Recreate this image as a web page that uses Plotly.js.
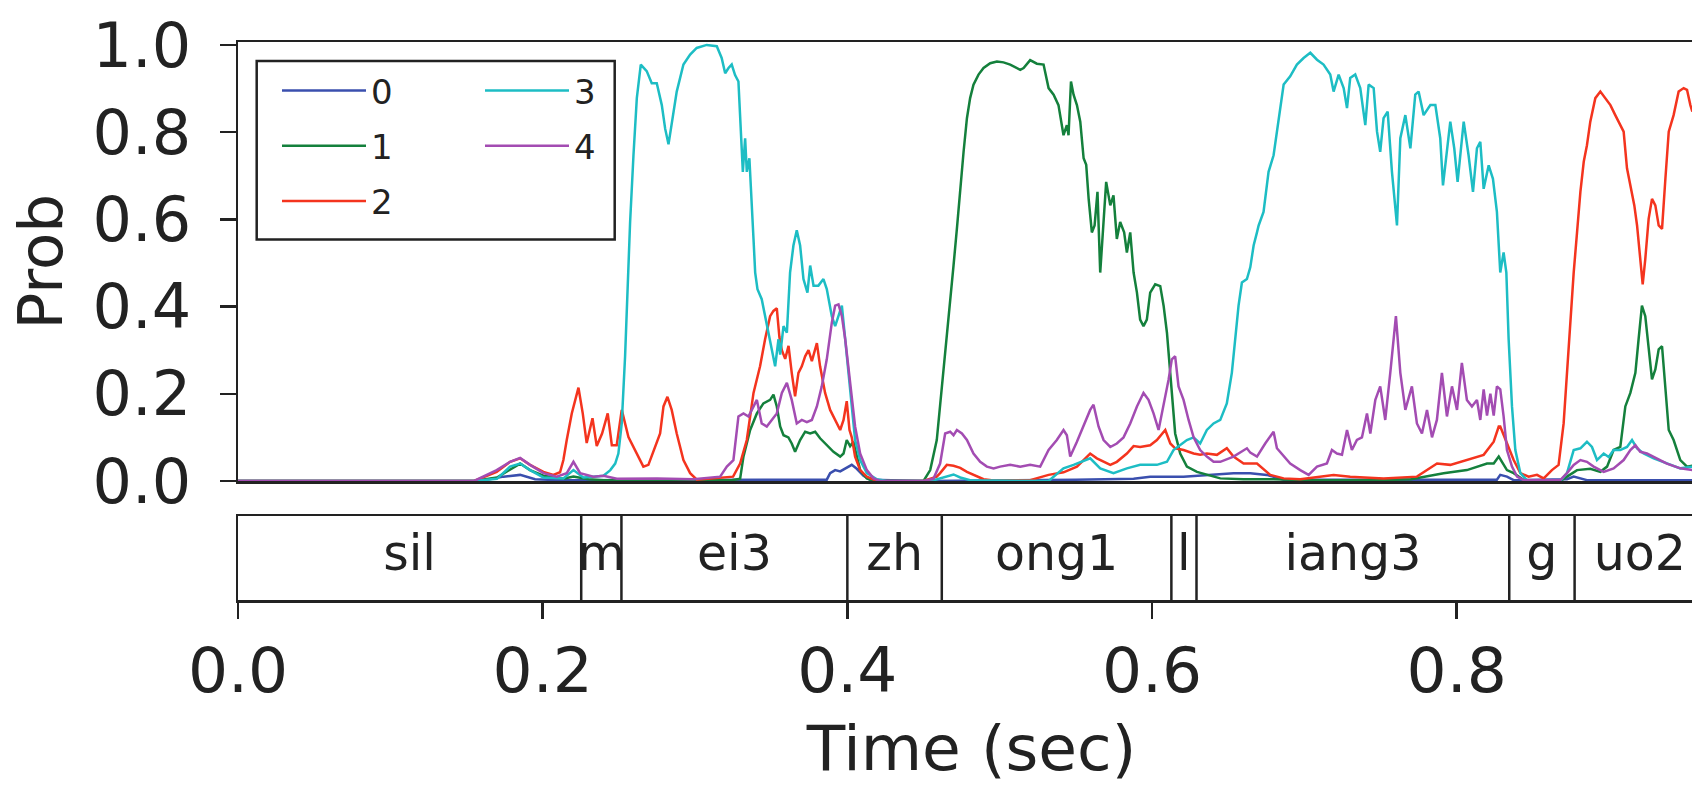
<!DOCTYPE html>
<html>
<head>
<meta charset="utf-8">
<script src="https://cdn.plot.ly/plotly-3.0.1.min.js"></script>
<style>
html, body { margin: 0; padding: 0; width: 1692px; height: 785px; overflow: hidden; background: #fff; }
#chart { width: 1705px; height: 785px; }
</style>
</head>
<body>
<div id="chart"></div>
<script>
// ---------- data ----------
const classNames = ['0', '1', '2', '3', '4'];
const classColors = ['#3a4fae', '#14803c', '#f4341e', '#1dbdc4', '#a34cb2'];

// class 0 (blue)
const t0 = [0, 0.155, 0.165, 0.1742, 0.1852, 0.1950, 0.21, 0.30,
  0.3865, 0.3887, 0.3920, 0.3953, 0.3986, 0.4029, 0.4062, 0.4106, 0.4150,
  0.45, 0.55, 0.5879, 0.5988, 0.6207, 0.6535, 0.6645, 0.6754, 0.6864,
  0.8264, 0.8286, 0.8330, 0.8374, 0.8724, 0.8768, 0.8855, 0.9547];
const p0 = [0, 0, 0.004, 0.01, 0.014, 0.004, 0.002, 0.002,
  0.003, 0.018, 0.025, 0.022, 0.028, 0.037, 0.028, 0.012, 0.003,
  0, 0.003, 0.005, 0.01, 0.01, 0.018, 0.018, 0.014, 0.003,
  0.003, 0.014, 0.01, 0.002, 0.004, 0.01, 0.002, 0.002];

// class 1 (green)
const t1 = [0, 0.155, 0.170, 0.1852, 0.1917, 0.2005, 0.2136, 0.2202, 0.2300, 0.2400,
  0.3240, 0.3296, 0.3318, 0.3362, 0.3406, 0.3449, 0.3493, 0.3515, 0.3537, 0.3559,
  0.3581, 0.3613, 0.3635, 0.3657, 0.3690, 0.3723, 0.3756, 0.3789, 0.3821, 0.3865,
  0.3909, 0.3953, 0.3975, 0.3996, 0.4018, 0.4040, 0.4062, 0.4084, 0.4128, 0.4172,
  0.4500, 0.4544, 0.4587, 0.4609, 0.4631, 0.4653, 0.4675, 0.4697, 0.4719, 0.4741,
  0.4763, 0.4785, 0.4806, 0.4828, 0.4861, 0.4894, 0.4938, 0.4982, 0.5025, 0.5069,
  0.5113, 0.5135, 0.5157, 0.5200, 0.5244, 0.5288, 0.5321, 0.5354, 0.5386, 0.5419,
  0.5441, 0.5452, 0.5468, 0.5485, 0.5507, 0.5529, 0.5551, 0.5568, 0.5584, 0.5605,
  0.5623, 0.5642, 0.5660, 0.5682, 0.5699, 0.5726, 0.5747, 0.5769, 0.5791, 0.5817,
  0.5835, 0.5857, 0.5879, 0.5901, 0.5922, 0.5944, 0.5966, 0.5988, 0.6021, 0.6054,
  0.6076, 0.6098, 0.6120, 0.6137, 0.6152, 0.6185, 0.6229, 0.6295, 0.6360, 0.6448,
  0.6600, 0.6798, 0.7000, 0.7500, 0.7700, 0.7914, 0.8067, 0.8199, 0.8243, 0.8276,
  0.8330, 0.8374, 0.8440, 0.8680, 0.8724, 0.8790, 0.8877, 0.8943, 0.8987, 0.9030,
  0.9074, 0.9107, 0.9140, 0.9173, 0.9194, 0.9216, 0.9238, 0.9260, 0.9282, 0.9304,
  0.9326, 0.9348, 0.9370, 0.9392, 0.9424, 0.9468, 0.9512, 0.9547];
const p1 = [0, 0, 0.008, 0.04, 0.025, 0.012, 0.005, 0.01, 0.004, 0.002,
  0.002, 0.005, 0.056, 0.117, 0.155, 0.178, 0.186, 0.198, 0.171, 0.125,
  0.105, 0.1, 0.086, 0.067, 0.094, 0.113, 0.109, 0.113, 0.098, 0.082,
  0.067, 0.056, 0.063, 0.094, 0.08, 0.09, 0.056, 0.025, 0.006, 0,
  0, 0.025, 0.094, 0.171, 0.248, 0.325, 0.402, 0.494, 0.578, 0.67,
  0.755, 0.832, 0.878, 0.909, 0.932, 0.947, 0.958, 0.962, 0.96, 0.955,
  0.947, 0.943, 0.947, 0.965, 0.957, 0.955, 0.901, 0.886, 0.862, 0.793,
  0.816, 0.793, 0.916, 0.886, 0.862, 0.824, 0.74, 0.725, 0.647, 0.57,
  0.586, 0.663, 0.478, 0.586, 0.686, 0.632, 0.655, 0.555, 0.594, 0.57,
  0.524, 0.57, 0.478, 0.432, 0.37, 0.355, 0.37, 0.432, 0.451, 0.447,
  0.402, 0.34, 0.248, 0.171, 0.109, 0.063, 0.033, 0.021, 0.014, 0.006,
  0.004, 0.004, 0.002, 0.002, 0.004, 0.018, 0.025, 0.04, 0.04, 0.056,
  0.025, 0.018, 0.002, 0, 0.01, 0.025, 0.028, 0.021, 0.033, 0.071,
  0.078, 0.171, 0.202, 0.248, 0.325, 0.402, 0.378, 0.309, 0.233, 0.256,
  0.302, 0.309, 0.209, 0.117, 0.094, 0.048, 0.033, 0.035];

// class 2 (red)
const t2 = [0, 0.155, 0.1698, 0.1786, 0.1852, 0.1917, 0.2005, 0.2070, 0.2114, 0.2136,
  0.2158, 0.2191, 0.2235, 0.2263, 0.2289, 0.2327, 0.2355, 0.2390, 0.2427, 0.2454,
  0.2486, 0.2519, 0.2563, 0.2607, 0.2661, 0.2694, 0.2727, 0.2771, 0.2793, 0.2819,
  0.2847, 0.2880, 0.2924, 0.2968, 0.3012, 0.3250, 0.3296, 0.3340, 0.3384, 0.3427,
  0.3460, 0.3493, 0.3515, 0.3537, 0.3554, 0.3570, 0.3592, 0.3614, 0.3635, 0.3657,
  0.3679, 0.3701, 0.3723, 0.3745, 0.3767, 0.3800, 0.3821, 0.3854, 0.3887, 0.3920,
  0.3953, 0.3975, 0.3996, 0.4014, 0.4029, 0.4051, 0.4084, 0.4128, 0.4194, 0.4500,
  0.4587, 0.4609, 0.4653, 0.4697, 0.4741, 0.4785, 0.4828, 0.4894, 0.4960, 0.5200,
  0.5321, 0.5419, 0.5507, 0.5594, 0.5638, 0.5726, 0.5769, 0.5835, 0.5879, 0.5922,
  0.5988, 0.6032, 0.6087, 0.6120, 0.6152, 0.6207, 0.6273, 0.6316, 0.6360, 0.6426,
  0.6491, 0.6535, 0.6601, 0.6645, 0.6689, 0.6776, 0.6864, 0.6973, 0.7192, 0.7301,
  0.7520, 0.7739, 0.7871, 0.7958, 0.8067, 0.8177, 0.8243, 0.8276, 0.8286, 0.8330,
  0.8374, 0.8418, 0.8472, 0.8527, 0.8571, 0.8625, 0.8669, 0.8702, 0.8724, 0.8746,
  0.8768, 0.8790, 0.8812, 0.8834, 0.8855, 0.8877, 0.8910, 0.8943, 0.8976, 0.9009,
  0.9041, 0.9074, 0.9096, 0.9118, 0.9140, 0.9166, 0.9184, 0.9205, 0.9221, 0.9238,
  0.9260, 0.9282, 0.9304, 0.9326, 0.9348, 0.9370, 0.9392, 0.9424, 0.9457, 0.9490,
  0.9512, 0.9534, 0.9547];
const p2 = [0, 0, 0.021, 0.044, 0.052, 0.037, 0.021, 0.014, 0.02, 0.048,
  0.094, 0.155, 0.214, 0.155, 0.087, 0.144, 0.08, 0.109, 0.155, 0.082,
  0.082, 0.163, 0.101, 0.071, 0.033, 0.037, 0.067, 0.109, 0.171, 0.193,
  0.163, 0.109, 0.048, 0.018, 0.003, 0.01, 0.04, 0.094, 0.202, 0.263,
  0.325, 0.378, 0.39, 0.396, 0.33, 0.30, 0.28, 0.31, 0.248, 0.194,
  0.248, 0.263, 0.286, 0.3, 0.275, 0.316, 0.263, 0.202, 0.163, 0.14,
  0.117, 0.14, 0.183, 0.117, 0.1, 0.056, 0.025, 0.01, 0, 0,
  0.01, 0.018, 0.037, 0.035, 0.03, 0.021, 0.014, 0.004, 0.001, 0.002,
  0.014, 0.02, 0.033, 0.063, 0.052, 0.037, 0.044, 0.063, 0.08, 0.078,
  0.082, 0.094, 0.117, 0.086, 0.075, 0.071, 0.063, 0.06, 0.063, 0.06,
  0.075, 0.056, 0.04, 0.04, 0.04, 0.014, 0.006, 0.004, 0.014, 0.01,
  0.006, 0.01, 0.04, 0.037, 0.048, 0.06, 0.09, 0.125, 0.125, 0.086,
  0.048, 0.018, 0.01, 0.014, 0.006, 0.025, 0.037, 0.132, 0.248, 0.363,
  0.478, 0.57, 0.663, 0.732, 0.77, 0.824, 0.878, 0.893, 0.878, 0.862,
  0.839, 0.816, 0.801, 0.717, 0.678, 0.632, 0.586, 0.509, 0.451, 0.509,
  0.601, 0.647, 0.632, 0.586, 0.578, 0.693, 0.801, 0.839, 0.893, 0.901,
  0.897, 0.862, 0.847];

// class 3 (cyan)
const t3 = [0, 0.155, 0.170, 0.1786, 0.1852, 0.1917, 0.2005, 0.2136, 0.2202, 0.2267,
  0.2333, 0.2399, 0.2444, 0.2476, 0.2497, 0.2519, 0.2541, 0.2557, 0.2574, 0.2596,
  0.2618, 0.2644, 0.2683, 0.2716, 0.2749, 0.2782, 0.2804, 0.2826, 0.2847, 0.2880,
  0.2924, 0.2968, 0.3011, 0.3077, 0.3143, 0.3175, 0.3198, 0.3220, 0.3241, 0.3263,
  0.3285, 0.3300, 0.3314, 0.3329, 0.3340, 0.3357, 0.3373, 0.3384, 0.3395, 0.3410,
  0.3438, 0.3460, 0.3482, 0.3504, 0.3526, 0.3548, 0.3559, 0.3581, 0.3603, 0.3624,
  0.3646, 0.3668, 0.3690, 0.3712, 0.3738, 0.3756, 0.3778, 0.3810, 0.3843, 0.3865,
  0.3898, 0.3920, 0.3942, 0.3964, 0.3986, 0.4007, 0.4029, 0.4051, 0.4084, 0.4128,
  0.4194, 0.4259, 0.4550, 0.4653, 0.4697, 0.4741, 0.4806, 0.5321, 0.5419, 0.5485,
  0.5594, 0.5660, 0.5747, 0.5835, 0.5922, 0.6032, 0.6098, 0.6141, 0.6185, 0.6229,
  0.6273, 0.6316, 0.6360, 0.6404, 0.6448, 0.6491, 0.6524, 0.6546, 0.6568, 0.6590,
  0.6623, 0.6645, 0.6667, 0.6689, 0.6700, 0.6732, 0.6765, 0.6798, 0.6831, 0.6864,
  0.6907, 0.6951, 0.6995, 0.7039, 0.7083, 0.7126, 0.7170, 0.7192, 0.7225, 0.7258,
  0.7280, 0.7301, 0.7334, 0.7367, 0.7400, 0.7422, 0.7455, 0.7477, 0.7498, 0.7520,
  0.7547, 0.7575, 0.7608, 0.7630, 0.7663, 0.7696, 0.7728, 0.7750, 0.7783, 0.7827,
  0.7860, 0.7892, 0.7910, 0.7936, 0.7958, 0.7984, 0.8006, 0.8046, 0.8078, 0.8107,
  0.8133, 0.8155, 0.8177, 0.8210, 0.8238, 0.8264, 0.8286, 0.8308, 0.8326, 0.8341,
  0.8363, 0.8385, 0.8418, 0.8461, 0.8680, 0.8724, 0.8768, 0.8812, 0.8855, 0.8888,
  0.8921, 0.8965, 0.8998, 0.9030, 0.9074, 0.9118, 0.9151, 0.9184, 0.9227, 0.9293,
  0.9380, 0.9468, 0.9547];
const p3 = [0, 0, 0.005, 0.033, 0.04, 0.025, 0.008, 0.006, 0.025, 0.008,
  0.01, 0.012, 0.025, 0.04, 0.063, 0.132, 0.286, 0.44, 0.594, 0.747,
  0.878, 0.955, 0.94, 0.912, 0.912, 0.862, 0.808, 0.772, 0.817, 0.893,
  0.955, 0.978, 0.993, 1.0, 0.997, 0.97, 0.935, 0.947, 0.955, 0.931,
  0.916, 0.824, 0.709, 0.786, 0.709, 0.74, 0.647, 0.555, 0.478, 0.44,
  0.417, 0.378, 0.347, 0.3, 0.263, 0.325, 0.29, 0.355, 0.34, 0.478,
  0.54, 0.575, 0.54, 0.463, 0.432, 0.494, 0.448, 0.448, 0.463, 0.44,
  0.378, 0.355, 0.378, 0.402, 0.325, 0.248, 0.171, 0.094, 0.048, 0.018,
  0.004, 0, 0, 0.01, 0.015, 0.008, 0.002, 0, 0.029, 0.037,
  0.052, 0.029, 0.018, 0.029, 0.037, 0.037, 0.044, 0.071, 0.082, 0.094,
  0.1, 0.086, 0.117, 0.132, 0.14, 0.178, 0.248, 0.325, 0.402, 0.455,
  0.463, 0.49, 0.54, 0.57, 0.586, 0.617, 0.709, 0.747, 0.832, 0.909,
  0.928, 0.955, 0.97, 0.982, 0.966, 0.955, 0.932, 0.893, 0.932, 0.901,
  0.855, 0.924, 0.932, 0.901, 0.816, 0.909, 0.901, 0.801, 0.755, 0.832,
  0.847, 0.709, 0.586, 0.786, 0.839, 0.763, 0.886, 0.893, 0.839, 0.862,
  0.862, 0.786, 0.678, 0.763, 0.824, 0.763, 0.686, 0.824, 0.747, 0.663,
  0.763, 0.778, 0.67, 0.724, 0.693, 0.617, 0.478, 0.524, 0.478, 0.325,
  0.171, 0.071, 0.018, 0.002, 0, 0.018, 0.071, 0.075, 0.09, 0.078,
  0.048, 0.063, 0.055, 0.071, 0.071, 0.078, 0.094, 0.075, 0.063, 0.052,
  0.04, 0.029, 0.033];

// class 4 (purple)
const t4 = [0, 0.155, 0.1698, 0.1786, 0.1852, 0.1917, 0.2005, 0.2092, 0.2158, 0.2202,
  0.2246, 0.2333, 0.2399, 0.2487, 0.2750, 0.2990, 0.3165, 0.3209, 0.3252, 0.3285,
  0.3318, 0.3351, 0.3373, 0.3406, 0.3438, 0.3471, 0.3504, 0.3537, 0.3570, 0.3603,
  0.3635, 0.3668, 0.3701, 0.3734, 0.3767, 0.3800, 0.3832, 0.3865, 0.3898, 0.3920,
  0.3942, 0.3964, 0.3986, 0.4007, 0.4029, 0.4051, 0.4084, 0.4128, 0.4172, 0.4215,
  0.4500, 0.4565, 0.4609, 0.4642, 0.4675, 0.4697, 0.4719, 0.4752, 0.4785, 0.4828,
  0.4872, 0.4916, 0.4960, 0.5003, 0.5069, 0.5135, 0.5200, 0.5266, 0.5321, 0.5375,
  0.5419, 0.5441, 0.5463, 0.5507, 0.5594, 0.5616, 0.5649, 0.5682, 0.5726, 0.5769,
  0.5813, 0.5857, 0.5901, 0.5944, 0.5977, 0.6010, 0.6043, 0.6076, 0.6109, 0.6130,
  0.6152, 0.6174, 0.6207, 0.6240, 0.6273, 0.6316, 0.6360, 0.6404, 0.6448, 0.6535,
  0.6623, 0.6645, 0.6689, 0.6743, 0.6798, 0.6820, 0.6864, 0.6907, 0.6973, 0.7028,
  0.7083, 0.7148, 0.7181, 0.7214, 0.7247, 0.7280, 0.7312, 0.7345, 0.7378, 0.7411,
  0.7433, 0.7466, 0.7498, 0.7531, 0.7564, 0.7601, 0.7630, 0.7663, 0.7706, 0.7739,
  0.7772, 0.7805, 0.7838, 0.7870, 0.7903, 0.7936, 0.7969, 0.8002, 0.8034, 0.8067,
  0.8100, 0.8133, 0.8155, 0.8177, 0.8199, 0.8221, 0.8243, 0.8264, 0.8286, 0.8308,
  0.8330, 0.8363, 0.8396, 0.8440, 0.8680, 0.8724, 0.8768, 0.8812, 0.8855, 0.8899,
  0.8965, 0.9030, 0.9096, 0.9140, 0.9173, 0.9205, 0.9249, 0.9315, 0.9380, 0.9468,
  0.9547];
const p4 = [0, 0, 0.025, 0.044, 0.053, 0.037, 0.018, 0.01, 0.018, 0.044,
  0.018, 0.01, 0.012, 0.005, 0.006, 0.004, 0.01, 0.033, 0.048, 0.148,
  0.155, 0.148, 0.163, 0.186, 0.132, 0.125, 0.14, 0.155, 0.202, 0.225,
  0.186, 0.132, 0.14, 0.135, 0.14, 0.171, 0.217, 0.279, 0.363, 0.402,
  0.405, 0.378, 0.325, 0.256, 0.186, 0.125, 0.063, 0.025, 0.006, 0,
  0, 0.005, 0.04, 0.109, 0.113, 0.105, 0.117, 0.109, 0.094, 0.063,
  0.044, 0.033, 0.029, 0.033, 0.037, 0.033, 0.037, 0.033, 0.071, 0.094,
  0.117, 0.105, 0.056, 0.09, 0.163, 0.175, 0.125, 0.094, 0.078, 0.086,
  0.1, 0.132, 0.171, 0.202, 0.186, 0.155, 0.117, 0.171, 0.233, 0.279,
  0.286, 0.217, 0.186, 0.14, 0.1, 0.071, 0.056, 0.044, 0.044, 0.056,
  0.075, 0.065, 0.056, 0.086, 0.113, 0.075, 0.056, 0.04, 0.025, 0.014,
  0.033, 0.04, 0.071, 0.063, 0.06, 0.117, 0.071, 0.094, 0.1, 0.155,
  0.109, 0.186, 0.217, 0.14, 0.248, 0.378, 0.248, 0.163, 0.217, 0.132,
  0.109, 0.163, 0.1, 0.14, 0.248, 0.148, 0.217, 0.163, 0.271, 0.186,
  0.171, 0.186, 0.14, 0.21, 0.15, 0.2, 0.15, 0.217, 0.21, 0.148,
  0.071, 0.033, 0.01, 0.002, 0.002, 0.018, 0.037, 0.048, 0.044, 0.033,
  0.021, 0.029, 0.048, 0.071, 0.082, 0.067, 0.063, 0.052, 0.04, 0.029,
  0.025];

// phone segmentation
const phones = ['sil', 'm', 'ei3', 'zh', 'ong1', 'l', 'iang3', 'g', 'uo2'];
const phoneBounds = [0, 0.2253, 0.2517, 0.400, 0.462, 0.6127, 0.6292, 0.8345, 0.8774, 0.963];

// axis ticks
const yTicks = [0, 0.2, 0.4, 0.6, 0.8, 1.0];
const xTicks = [0, 0.2, 0.4, 0.6, 0.8];

// ---------- build figure ----------
const FONT = 'DejaVu Sans, Bitstream Vera Sans, sans-serif';
const INK = '#222222';
const W = 1705, H = 785;
const px = v => v / W;
const py = v => 1 - v / H;

const times = [t0, t1, t2, t3, t4];
const probs = [p0, p1, p2, p3, p4];
const traces = [];
for (let k = 0; k < 5; k++) {
  traces.push({
    type: 'scatter', mode: 'lines',
    x: times[k], y: probs[k],
    name: classNames[k],
    legend: k < 3 ? 'legend' : 'legend2',
    legendgroup: 'g' + k,
    line: { color: classColors[k], width: 2.5 },
    xaxis: 'x', yaxis: 'y', hoverinfo: 'skip'
  });
}

// phone boundaries (interior)
const bx = [], by = [];
for (let i = 1; i < phoneBounds.length - 1; i++) {
  bx.push(phoneBounds[i], phoneBounds[i], null);
  by.push(0, 1, null);
}
traces.push({
  type: 'scatter', mode: 'lines', x: bx, y: by,
  xaxis: 'x2', yaxis: 'y2', showlegend: false, hoverinfo: 'skip',
  line: { color: INK, width: 2.5 }
});
const mids = phones.map((p, i) => (phoneBounds[i] + phoneBounds[i + 1]) / 2);
traces.push({
  type: 'scatter', mode: 'text', x: mids, y: phones.map(() => 0.5),
  text: phones, textposition: 'middle center',
  textfont: { family: FONT, size: 49, color: INK },
  xaxis: 'x2', yaxis: 'y2', showlegend: false, hoverinfo: 'skip'
});

const xDomain = [238 / W, 1];
const xRange = [0, 0.963];

const legendCommon = {
  orientation: 'v', xanchor: 'left', yanchor: 'top',
  font: { family: FONT, size: 34, color: INK },
  bgcolor: 'rgba(0,0,0,0)', borderwidth: 0,
  itemwidth: 84, tracegroupgap: 8, itemclick: false, itemdoubleclick: false
};

const layout = {
  width: W, height: H,
  margin: { l: 0, r: 0, t: 0, b: 0, pad: 0 },
  paper_bgcolor: '#ffffff', plot_bgcolor: 'rgba(0,0,0,0)',
  font: { family: FONT, color: INK },
  showlegend: true,
  legend: Object.assign({}, legendCommon, { x: px(277), y: py(62) }),
  legend2: Object.assign({}, legendCommon, { x: px(480), y: py(62) }),
  xaxis: {
    domain: xDomain, range: xRange, anchor: 'y',
    showline: true, linecolor: INK, linewidth: 2.5, mirror: true,
    showgrid: false, zeroline: false, ticks: '', showticklabels: false
  },
  yaxis: {
    domain: [(H - 481) / H, (H - 42.3) / H], range: [0, 1.006], anchor: 'x',
    showline: true, linecolor: INK, linewidth: 2.5,
    showgrid: false, zeroline: false,
    tickmode: 'array', tickvals: yTicks, ticktext: yTicks.map(v => v.toFixed(1)),
    ticks: 'outside', ticklen: 16, tickwidth: 2.5, tickcolor: INK,
    ticklabelstandoff: 16,
    tickfont: { family: FONT, size: 62, color: INK },
    title: { text: 'Prob', font: { family: FONT, size: 61, color: INK }, standoff: 10 }
  },
  xaxis2: {
    domain: xDomain, range: xRange, anchor: 'y2',
    showline: true, linecolor: INK, linewidth: 2.5, mirror: true,
    showgrid: false, zeroline: false,
    tickmode: 'array', tickvals: xTicks, ticktext: xTicks.map(v => v.toFixed(1)),
    ticks: 'outside', ticklen: 16, tickwidth: 2.5, tickcolor: INK,
    ticklabelstandoff: -2,
    tickfont: { family: FONT, size: 63, color: INK },
    title: { text: 'Time (sec)', font: { family: FONT, size: 63, color: INK }, standoff: 35 }
  },
  yaxis2: {
    domain: [(H - 600) / H, (H - 516) / H], range: [0, 1], anchor: 'x2',
    showline: true, linecolor: INK, linewidth: 2.5,
    showgrid: false, zeroline: false, ticks: '', showticklabels: false
  },
  shapes: [{
    type: 'rect', xref: 'paper', yref: 'paper',
    x0: px(256.7), x1: px(614.7), y0: py(239.5), y1: py(61),
    line: { color: INK, width: 2.5 }, fillcolor: 'rgba(255,255,255,0)', layer: 'above'
  }]
};

Plotly.newPlot('chart', traces, layout, { staticPlot: true, displayModeBar: false });
</script>
</body>
</html>
